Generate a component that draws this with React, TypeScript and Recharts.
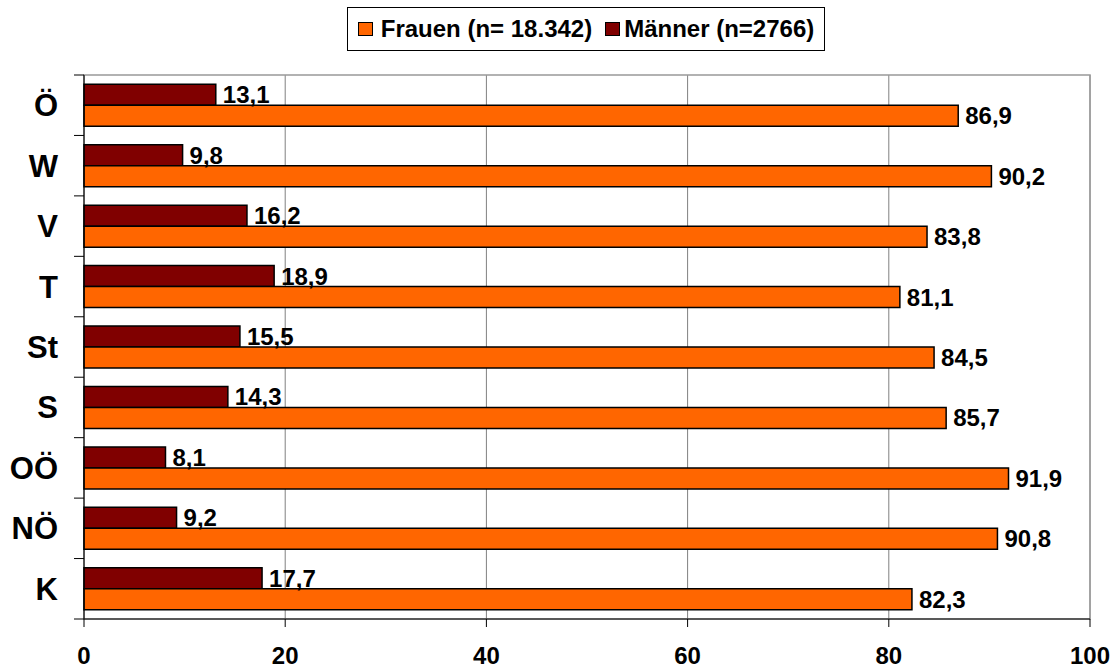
import React from "react";
import {
  BarChart,
  Bar,
  XAxis,
  YAxis,
  CartesianGrid,
  LabelList,
  ReferenceArea,
} from "recharts";

const categories = ["Ö", "W", "V", "T", "St", "S", "OÖ", "NÖ", "K"];
const frauen = [86.9, 90.2, 83.8, 81.1, 84.5, 85.7, 91.9, 90.8, 82.3];
const maenner = [13.1, 9.8, 16.2, 18.9, 15.5, 14.3, 8.1, 9.2, 17.7];
const xTicks = [0, 20, 40, 60, 80, 100];
const frauenLabel = "Frauen (n= 18.342)";
const maennerLabel = "Männer (n=2766)";

const FRAUEN_COLOR = "#FF6600";
const MAENNER_COLOR = "#800000";
const FONT = "'Liberation Sans', Arial, sans-serif";

const data = categories.map((c, i) => ({
  name: c,
  frauen: frauen[i],
  maenner: maenner[i],
}));

const fmt = (v: any) => Number(v).toFixed(1).replace(".", ",");

const YTick = (props: any) => {
  const { x, y, payload, index } = props;
  const off = payload.offset || 0;
  const axisX = x + 26;
  return (
    <g>
      <text
        x={x}
        y={y}
        dy="0.355em"
        textAnchor="end"
        fontFamily={FONT}
        fontWeight="bold"
        fontSize={31}
        fill="#000"
      >
        {payload.value}
      </text>
      <line x1={axisX - 10} x2={axisX} y1={y + off} y2={y + off} stroke="#000" />
      {index === 0 && (
        <line x1={axisX - 10} x2={axisX} y1={y - off} y2={y - off} stroke="#000" />
      )}
    </g>
  );
};

const LegendBox = () => (
  <div
    style={{
      position: "absolute",
      left: 347,
      top: 7,
      width: 478,
      height: 44,
      boxSizing: "border-box",
      border: "1px solid #000",
      background: "#fff",
      display: "flex",
      alignItems: "center",
      justifyContent: "center",
      fontFamily: FONT,
      fontWeight: "bold",
      fontSize: 24,
      color: "#000",
      whiteSpace: "nowrap",
    }}
  >
    <span
      style={{
        display: "inline-block",
        width: 15,
        height: 14,
        boxSizing: "border-box",
        background: FRAUEN_COLOR,
        border: "1px solid #000",
        marginRight: 8,
      }}
    />
    <span>{frauenLabel}</span>
    <span
      style={{
        display: "inline-block",
        width: 15,
        height: 14,
        boxSizing: "border-box",
        background: MAENNER_COLOR,
        border: "1px solid #000",
        marginLeft: 13,
        marginRight: 4,
      }}
    />
    <span>{maennerLabel}</span>
  </div>
);

export default function App() {
  return (
    <div
      style={{
        position: "absolute",
        left: 0,
        top: 0,
        width: 1115,
        height: 668,
        background: "#fff",
      }}
    >
      <BarChart
        width={1115}
        height={668}
        data={data}
        layout="vertical"
        margin={{ top: 75, right: 25, bottom: 0, left: 0 }}
        barCategoryGap="15.3%"
        barGap={0}
      >
        <CartesianGrid horizontal={false} stroke="#808080" strokeWidth={1} />
        <ReferenceArea x1={0} x2={100} fill="none" stroke="#999" strokeWidth={1.5} ifOverflow="extendDomain" />
        <XAxis
          type="number"
          domain={[0, 100]}
          ticks={xTicks}
          interval={0}
          height={49}
          tickSize={8}
          tickMargin={20}
          axisLine={{ stroke: "#000" }}
          tickLine={{ stroke: "#000" }}
          tick={{ fill: "#000", fontFamily: FONT, fontWeight: "bold", fontSize: 24 }}
        />
        <YAxis
          type="category"
          dataKey="name"
          width={84}
          tickSize={10}
          tickMargin={16}
          tickLine={false}
          axisLine={{ stroke: "#000" }}
          tick={<YTick />}
          interval={0}
        />
        <Bar
          dataKey="maenner"
          name={maennerLabel}
          fill={MAENNER_COLOR}
          stroke="#000"
          strokeWidth={1.5}
          isAnimationActive={false}
        >
          <LabelList
            dataKey="maenner"
            position="right"
            offset={7}
            formatter={fmt}
            fill="#000"
            fontFamily={FONT}
            fontWeight="bold"
            fontSize={24}
          />
        </Bar>
        <Bar
          dataKey="frauen"
          name={frauenLabel}
          fill={FRAUEN_COLOR}
          stroke="#000"
          strokeWidth={1.5}
          isAnimationActive={false}
        >
          <LabelList
            dataKey="frauen"
            position="right"
            offset={7}
            formatter={fmt}
            fill="#000"
            fontFamily={FONT}
            fontWeight="bold"
            fontSize={24}
          />
        </Bar>
      </BarChart>
      <LegendBox />
    </div>
  );
}
